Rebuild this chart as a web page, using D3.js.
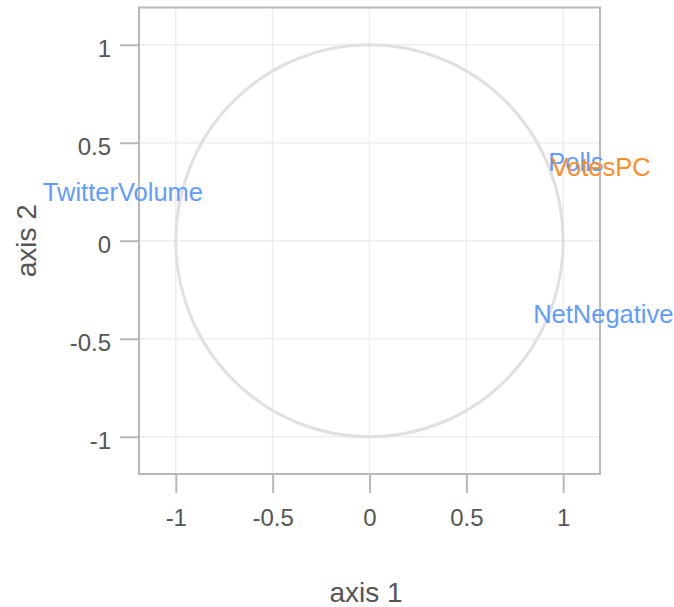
<!DOCTYPE html>
<html>
<head>
<meta charset="utf-8">
<script src="https://cdn.jsdelivr.net/npm/d3@7/dist/d3.min.js"></script>
<style>
  html, body { margin: 0; padding: 0; background: #fff; }
  svg { display: block; }
  text { font-family: "Liberation Sans", Arial, sans-serif; }
</style>
</head>
<body>
<svg id="chart" width="674" height="607"></svg>
<script>
// Variable labels placed in the plane of the first two axes
const variables = ["TwitterVolume", "Polls", "VotesPC", "NetNegative"];
const axis1 = [-1.273, 1.066, 1.195, 1.207];
const axis2 = [0.248, 0.403, 0.377, -0.375];
const groups = ["blue", "blue", "orange", "blue"];

const xTicks = [-1, -0.5, 0, 0.5, 1];
const yTicks = [-1, -0.5, 0, 0.5, 1];
const xTickLabels = ["-1", "-0.5", "0", "0.5", "1"];
const yTickLabels = ["-1", "-0.5", "0", "0.5", "1"];

const colourOf = { blue: "#619CFF", orange: "#FF8C26" };

const svg = d3.select("#chart");
const panel = { left: 139, right: 600, top: 7.5, bottom: 474 };

const x = d3.scaleLinear().domain([-1.19, 1.19]).range([panel.left, panel.right]);
const y = d3.scaleLinear().domain([-1.19, 1.19]).range([panel.bottom, panel.top]);

// grid lines
const grid = svg.append("g");
grid.selectAll("line.v").data(xTicks).join("line")
  .attr("x1", d => x(d)).attr("x2", d => x(d))
  .attr("y1", panel.top).attr("y2", panel.bottom)
  .attr("stroke", "#ededed").attr("stroke-width", 1.5);
grid.selectAll("line.h").data(yTicks).join("line")
  .attr("y1", d => y(d)).attr("y2", d => y(d))
  .attr("x1", panel.left).attr("x2", panel.right)
  .attr("stroke", "#ededed").attr("stroke-width", 1.5);

// unit correlation circle
svg.append("ellipse")
  .attr("cx", x(0)).attr("cy", y(0))
  .attr("rx", x(1) - x(0)).attr("ry", y(0) - y(1))
  .attr("fill", "none").attr("stroke", "#e0e0e0").attr("stroke-width", 3);

// panel border
svg.append("rect")
  .attr("x", panel.left).attr("y", panel.top)
  .attr("width", panel.right - panel.left).attr("height", panel.bottom - panel.top)
  .attr("fill", "none").attr("stroke", "#b8b8b8").attr("stroke-width", 2);

// axes
const xAxis = d3.axisBottom(x).tickValues(xTicks)
  .tickFormat((d, i) => xTickLabels[i]).tickSize(18).tickPadding(16);
const gx = svg.append("g").attr("transform", `translate(0,${panel.bottom + 1})`).call(xAxis);
gx.select(".domain").remove();
gx.selectAll(".tick line").attr("stroke", "#b8b8b8").attr("stroke-width", 2);
gx.selectAll(".tick text").attr("fill", "#555").style("font-size", "24px")
  .style("font-family", "'Liberation Sans', Arial, sans-serif");

const yAxis = d3.axisLeft(y).tickValues(yTicks)
  .tickFormat((d, i) => yTickLabels[i]).tickSize(18).tickPadding(9);
const gy = svg.append("g").attr("transform", `translate(${panel.left - 1},0)`).call(yAxis);
gy.select(".domain").remove();
gy.selectAll(".tick line").attr("stroke", "#b8b8b8").attr("stroke-width", 2);
gy.selectAll(".tick text").attr("fill", "#555").style("font-size", "24px")
  .attr("dy", "0.5em")
  .style("font-family", "'Liberation Sans', Arial, sans-serif");

// variable labels
svg.append("g").selectAll("text").data(variables).join("text")
  .attr("x", (d, i) => x(axis1[i]))
  .attr("y", (d, i) => y(axis2[i]))
  .attr("dy", "0.35em")
  .attr("text-anchor", "middle")
  .attr("fill", (d, i) => colourOf[groups[i]])
  .style("font-size", "25.5px")
  .text(d => d);

// axis titles
svg.append("text")
  .attr("x", 366).attr("y", 602)
  .attr("text-anchor", "middle")
  .attr("fill", "#555").style("font-size", "28px")
  .text("axis 1");
svg.append("text")
  .attr("transform", `translate(36,${(panel.top + panel.bottom) / 2}) rotate(-90)`)
  .attr("text-anchor", "middle")
  .attr("fill", "#555").style("font-size", "28px")
  .text("axis 2");
</script>
</body>
</html>
